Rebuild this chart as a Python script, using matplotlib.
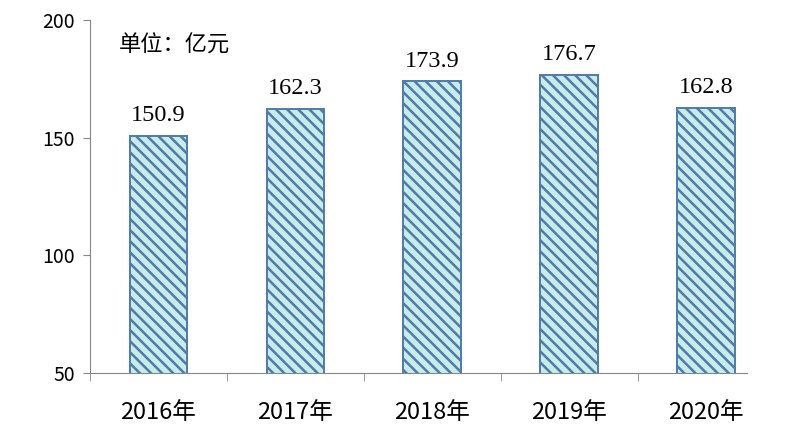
import matplotlib
matplotlib.use("Agg")
import matplotlib.pyplot as plt
import numpy as np

# data
years = ['2016年', '2017年', '2018年', '2019年', '2020年']
values = [150.9, 162.3, 173.9, 176.7, 162.8]

plt.rcParams['font.family'] = ['Noto Sans CJK SC', 'DejaVu Sans']
plt.rcParams['hatch.linewidth'] = 1.8
plt.rcParams['hatch.color'] = '#4f7ba6'

fig = plt.figure(figsize=(8, 4.34), dpi=100)
ax = fig.add_axes([90 / 800, 1 - 373 / 434, (747 - 90) / 800, (373 - 20) / 434])

x = np.arange(len(years))
bars = ax.bar(x, values, width=0.42, bottom=0, color='#c8ecec',
              edgecolor='#4f7ba6', linewidth=1.4, hatch='\\\\\\')

# value labels
for xi, v in zip(x, values):
    ax.annotate(f'{v:.1f}', (xi, v), xytext=(0, 7), textcoords='offset points',
                ha='center', va='bottom', fontsize=17.5, family='Liberation Serif')

ax.set_ylim(50, 200)
ax.set_xlim(-0.5, 4.3)
ax.set_yticks([50, 100, 150, 200])
ax.tick_params(axis='y', labelsize=14, length=5, color='#868686', pad=6)

ax.set_xticks(x)
ax.set_xticklabels(years, fontsize=17)
ax.set_xticks(np.arange(-0.5, 4.0, 1), minor=True)
ax.tick_params(axis='x', which='major', length=0, pad=20)
ax.tick_params(axis='x', which='minor', length=6, color='#868686')

for s in ['top', 'right']:
    ax.spines[s].set_visible(False)
for s in ['left', 'bottom']:
    ax.spines[s].set_color('#868686')

ax.text(0.044, 0.93, '单位：亿元', transform=ax.transAxes, fontsize=16,
        ha='left', va='center')

plt.savefig('out.png', dpi=100)
